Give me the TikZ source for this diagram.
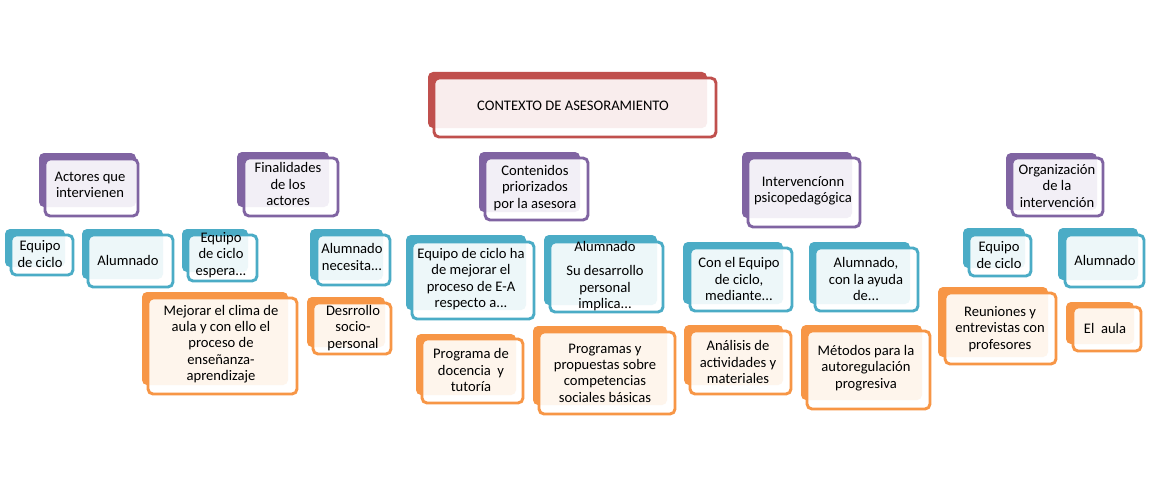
\documentclass[tikz,border=0pt]{standalone}
\usepackage{fontspec}
\setmainfont{Carlito}
\usetikzlibrary{fit,calc}
\definecolor{cred}{HTML}{C0504D}
\definecolor{cpur}{HTML}{8064A2}
\definecolor{cblu}{HTML}{4BACC6}
\definecolor{cora}{HTML}{F79646}
\pgfdeclarelayer{bg}
\pgfsetlayers{bg,main}
\tikzset{
  backbox/.style={rectangle, rounded corners=5pt, fill=#1, inner sep=0pt, outer sep=0pt},
  frontbox/.style={rectangle, rounded corners=5pt, fill=white, inner sep=0pt, outer sep=0pt},
  txt/.style={align=center, inner sep=0pt, text=black, font=\fontsize{14.6}{16.3}\selectfont},
  conn/.style={line width=2.6pt},
}
\newcommand{\saBox}[8]{%
  \node[backbox=#2, fit={(#3) (#4)}] (#1) {};
  \node[frontbox, fit={(#5) (#6)}] (#1-f) {};
  \begin{scope}
    \clip[rounded corners=5pt] (#3) rectangle (#4);
    \fill[#2!10!white, rounded corners=5pt] (#5) rectangle (#6);
  \end{scope}
  \draw[#2, line width=2.9pt, rounded corners=5pt] (#5) rectangle (#6);
  \node[txt] (#1-t) at (#7) {#8};
}
\begin{document}
\begin{tikzpicture}[x=1pt,y=-1pt]
\useasboundingbox (0,0) rectangle (1151,487);
\fill[white] (0,0) rectangle (1151,487);

% level 0
\saBox{top}{cred}{428,72}{707,128}{434,78}{716,137}{573,106}{CONTEXTO DE ASESORAMIENTO}

% level 1
\saBox{act}{cpur}{39,153}{136,207}{45,159}{138,216}{90,185}{Actores que\\intervienen}
\saBox{fin}{cpur}{237,152}{329,207}{244,158}{338,216}{288,184}{Finalidades\\de los\\actores}
\saBox{con}{cpur}{479,152}{580,212}{485,158}{588,220}{535,188}{Contenidos\\priorizados\\por la asesora}
\saBox{int}{cpur}{742,152}{852,218}{748,158}{860,227}{803,191}{Intervencíonn\\psicopedagógica}
\saBox{org}{cpur}{1006,153}{1097,210}{1012,158}{1103,216}{1057,186}{Organización\\de la\\intervención}

% level 2
\saBox{aeq}{cblu}{5,229}{65,267}{11,235}{73,275}{40,254}{Equipo\\de ciclo}
\saBox{aal}{cblu}{82,229}{163,279}{88,235}{173,287}{128,260}{Alumnado}
\saBox{feq}{cblu}{182,229}{248,272}{188,235}{257,281}{221,255}{Equipo\\de ciclo\\espera...}
\saBox{fal}{cblu}{310,229}{383,280}{317,235}{390,285}{352,257}{Alumnado\\necesita...}
\saBox{ceq}{cblu}{406,235}{526,310}{412,242}{534,319}{471,279}{Equipo de ciclo ha\\de mejorar el\\proceso de E-A\\respecto a...}
\saBox{cal}{cblu}{544,235}{657,305}{550,242}{663,312}{605,276}{Alumnado\\[8pt]Su desarrollo\\personal\\implica...}
\saBox{ieq}{cblu}{683,242}{783,304}{690,248}{792,311}{739,279}{Con el Equipo\\de ciclo,\\mediante...}
\saBox{ial}{cblu}{809,242}{910,304}{815,248}{918,311}{866,279}{Alumnado,\\con la ayuda\\de...}
\saBox{oeq}{cblu}{963,228}{1025,268}{969,235}{1031,276}{999,255}{Equipo\\de ciclo}
\saBox{oal}{cblu}{1058,228}{1138,280}{1065,235}{1144,287}{1105,260}{Alumnado}

% level 3
\saBox{fmj}{cora}{142,292}{288,385}{148,298}{297,394}{221,344}{Mejorar el clima de\\aula y con ello el\\proceso de\\enseñanza-\\aprendizaje}
\saBox{fds}{cora}{307,297}{385,347}{313,303}{391,354}{353,328}{Desrrollo\\socio-\\personal}
\saBox{cpr}{cora}{416,334}{516,395}{422,339}{523,403}{471,370}{Programa de\\docencia\ \ y\\tutoría}
\saBox{cps}{cora}{533,326}{667,405}{539,332}{675,414}{605,373}{Programas y\\propuestas sobre\\competencias\\sociales básicas}
\saBox{ian}{cora}{684,325}{783,385}{690,331}{791,394}{738,362}{Análisis de\\actividades y\\materiales}
\saBox{ime}{cora}{801,325}{922,400}{807,331}{930,409}{866,368}{Métodos para la\\autoregulación\\progresiva}
\saBox{ore}{cora}{938,287}{1048,357}{945,293}{1056,364}{1000,329}{Reuniones y\\entrevistas con\\profesores}
\saBox{oau}{cora}{1066,302}{1134,344}{1073,307}{1141,351}{1105,328}{El\ \ aula}

\begin{pgfonlayer}{bg}
  \coordinate (bar0) at (0,144);
  \coordinate (barA) at (0,222);
  \coordinate (barF) at (0,222);
  \coordinate (barC) at (0,228);
  \coordinate (barI) at (0,234);
  \coordinate (barO) at (0,222);
  % level 1
  \draw[conn,cpur] (top.center) -- (top.center |- bar0);
  \draw[conn,cpur] (act.center) -- (act.center |- bar0) -- (org.center |- bar0) -- (org.center);
  \foreach \n in {fin,con,int}{\draw[conn,cpur] (\n.center) -- (\n.center |- bar0);}
  % level 2
  \draw[conn,cblu] (act.center) -- (act.center |- barA);
  \draw[conn,cblu] (aeq.center) -- (aeq.center |- barA) -- (aal.center |- barA) -- (aal.center);
  \draw[conn,cblu] (fin.center) -- (fin.center |- barF);
  \draw[conn,cblu] (feq.center) -- (feq.center |- barF) -- (fal.center |- barF) -- (fal.center);
  \draw[conn,cblu] (con.center) -- (con.center |- barC);
  \draw[conn,cblu] (ceq.center) -- (ceq.center |- barC) -- (cal.center |- barC) -- (cal.center);
  \draw[conn,cblu] (int.center) -- (int.center |- barI);
  \draw[conn,cblu] (ieq.center) -- (ieq.center |- barI) -- (ial.center |- barI) -- (ial.center);
  \draw[conn,cblu] (org.center) -- (org.center |- barO);
  \draw[conn,cblu] (oeq.center) -- (oeq.center |- barO) -- (oal.center |- barO) -- (oal.center);
  % level 3
  \draw[conn,cora] (feq.center) -- (fmj.center);
  \draw[conn,cora] (fal.center) -- (fds.center);
  \draw[conn,cora] (ceq.center) -- (cpr.center);
  \draw[conn,cora] (cal.center) -- (cps.center);
  \draw[conn,cora] (ieq.center) -- (ian.center);
  \draw[conn,cora] (ial.center) -- (ime.center);
  \draw[conn,cora] (oeq.center) -- (ore.center);
  \draw[conn,cora] (oal.center) -- (oau.center);
\end{pgfonlayer}
\end{tikzpicture}
\end{document}
